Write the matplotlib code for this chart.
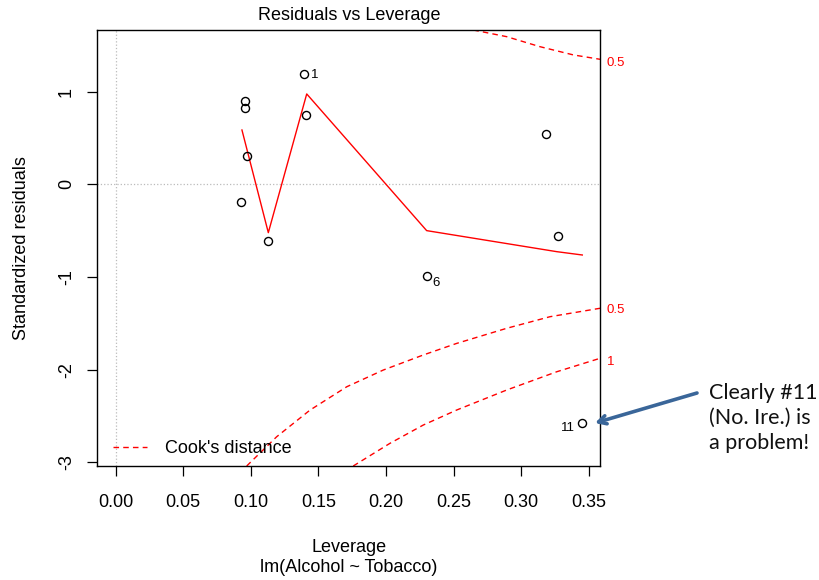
import matplotlib.pyplot as plt
from matplotlib.lines import Line2D

# points: leverage vs standardized residuals
leverage = [0.139, 0.096, 0.0958, 0.141, 0.318, 0.097, 0.093, 0.113, 0.327, 0.230, 0.345]
std_resid = [1.19, 0.899, 0.823, 0.748, 0.540, 0.305, -0.188, -0.612, -0.561, -0.986, -2.573]
point_ids = ["1", "", "", "", "", "", "", "", "", "6", "11"]

# red smoother
smooth_x = [0.0934, 0.1129, 0.1413, 0.230, 0.3262, 0.3451]
smooth_y = [0.586, -0.522, 0.975, -0.50, -0.727, -0.763]

# Cook's distance contours
cook_up05_x = [0.2645, 0.2892, 0.3138, 0.3385, 0.3582]
cook_up05_y = [1.665, 1.593, 1.485, 1.396, 1.349]
cook_lo05_x = [0.0969, 0.1191, 0.1437, 0.1709, 0.198, 0.2275, 0.2522, 0.2892, 0.3212, 0.3582]
cook_lo05_y = [-3.04, -2.724, -2.437, -2.185, -2.004, -1.842, -1.717, -1.554, -1.429, -1.338]
cook_lo1_x = [0.1757, 0.2029, 0.2275, 0.2522, 0.2892, 0.3262, 0.3582]
cook_lo1_y = [-3.04, -2.795, -2.598, -2.436, -2.22, -2.023, -1.878]
cook_labels = ["0.5", "0.5", "1"]
cook_label_y = [1.309, -1.357, -1.915]

x_ticks = [0.00, 0.05, 0.10, 0.15, 0.20, 0.25, 0.30, 0.35]
y_ticks = [-3, -2, -1, 0, 1]

plt.rcParams["font.family"] = ["Liberation Sans", "DejaVu Sans"]

fig = plt.figure(figsize=(8.2, 5.8), dpi=100)
ax = fig.add_axes([97 / 820, 1 - 466 / 580, 503 / 820, 436 / 580])

ax.axvline(0, color="#bbbbbb", ls=":", lw=0.9, zorder=1)
ax.axhline(0, color="#bbbbbb", ls=":", lw=0.9, zorder=1)

ax.plot(leverage, std_resid, "o", ms=5.8, mfc="none", mec="black", mew=1.0, zorder=4)
for x, y, lab in zip(leverage, std_resid, point_ids):
    if lab == "1":
        ax.annotate(lab, (x, y), xytext=(5, -1), textcoords="offset points",
                    fontsize=9.5, va="center", ha="left")
    elif lab == "6":
        ax.annotate(lab, (x, y), xytext=(4, -5), textcoords="offset points",
                    fontsize=9.5, va="center", ha="left")
    elif lab == "11":
        ax.annotate(lab, (x, y), xytext=(-5, -4), textcoords="offset points",
                    fontsize=9.5, va="center", ha="right")

ax.plot(smooth_x, smooth_y, color="red", lw=1.0, zorder=3)

dash = dict(color="red", lw=1.0, ls=(0, (4, 3)), clip_on=True, zorder=2)
ax.plot(cook_up05_x, cook_up05_y, **dash)
ax.plot(cook_lo05_x, cook_lo05_y, **dash)
ax.plot(cook_lo1_x, cook_lo1_y, **dash)

# contour labels in the right margin
for lab, y in zip(cook_labels, cook_label_y):
    ax.text(1.013, y, lab, color="red", fontsize=9.5, va="center", ha="left",
            transform=ax.get_yaxis_transform())

ax.set_xlim(-0.0138, 0.3582)
ax.set_ylim(-3.04, 1.665)
ax.set_xticks(x_ticks)
ax.set_xticklabels([f"{t:.2f}" for t in x_ticks])
ax.set_yticks(y_ticks)
ax.set_yticklabels([str(t) for t in y_ticks], rotation=90, va="center")
ax.tick_params(axis="x", length=7, width=0.9, pad=13, labelsize=13)
ax.tick_params(axis="y", length=7, width=0.9, pad=9, labelsize=13)
for s in ax.spines.values():
    s.set_linewidth(1.0)

handle = Line2D([], [], color="red", lw=1.0, ls=(0, (4, 3)))
ax.legend([handle], ["Cook's distance"], loc="lower left", frameon=False,
          bbox_to_anchor=(0.032, 0.02), borderaxespad=0, borderpad=0,
          handlelength=1.9, handletextpad=0.95, fontsize=13)

fig.text(349 / 820, 1 - 15 / 580, "Residuals vs Leverage", ha="center", va="center", fontsize=13)
fig.text(349 / 820, 1 - 547 / 580, "Leverage", ha="center", va="center", fontsize=13)
fig.text(349 / 820, 1 - 567 / 580, "lm(Alcohol ~ Tobacco)", ha="center", va="center", fontsize=13)
fig.text(22 / 820, 1 - 248 / 580, "Standardized residuals", ha="center", va="center",
         rotation=90, fontsize=13)

# callout
fig.text(709 / 820, 1 - 418 / 580, "Clearly #11\n(No. Ire.) is\na problem!", ha="left", va="center",
         fontsize=15.5, family=["Lato", "DejaVu Sans"], color="#111111", linespacing=1.3)
ax.annotate("", xy=(595 / 820, 1 - 423 / 580), xycoords="figure fraction",
            xytext=(697 / 820, 1 - 393 / 580), textcoords="figure fraction",
            arrowprops=dict(arrowstyle="->,head_length=0.55,head_width=0.3",
                            color="#3A6699", lw=2.6, shrinkA=0, shrinkB=0),
            annotation_clip=False)

fig.savefig("out.png", dpi=100)
